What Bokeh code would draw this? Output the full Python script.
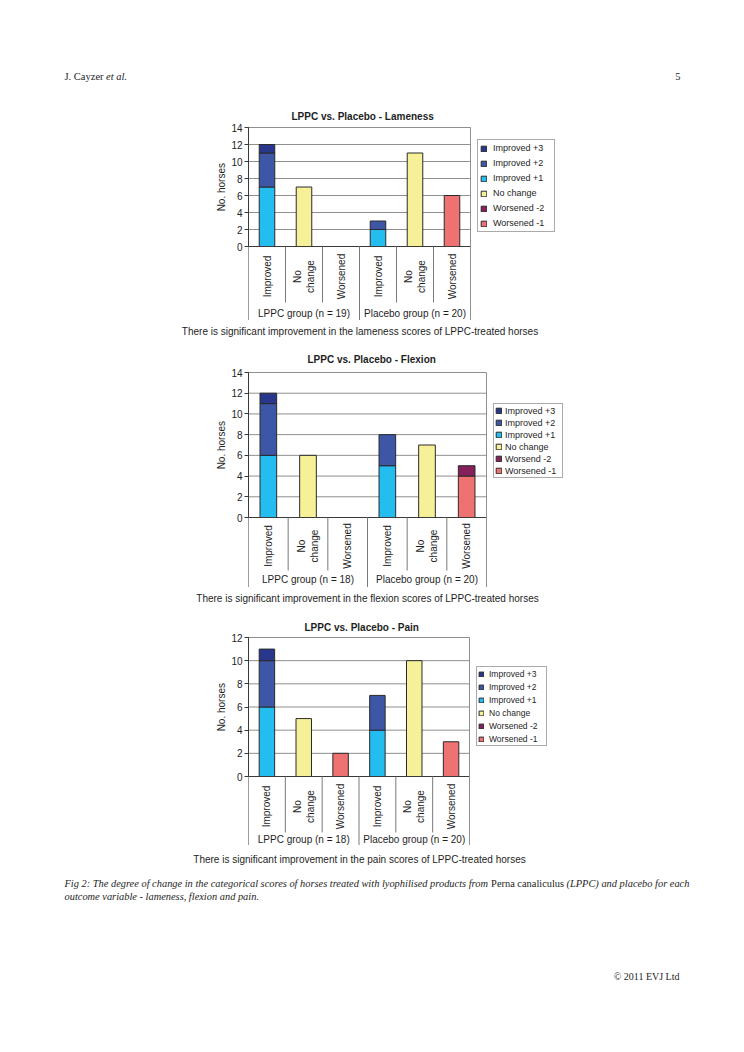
import math
from bokeh.plotting import figure
from bokeh.models import Range1d, FixedTicker, Legend, LegendItem, ColumnDataSource, Span, Title
from bokeh.core.properties import value
from bokeh.embed import file_html
from bokeh.resources import INLINE

# ---------------- data ----------------
outcomes = ["Improved", "No change", "Worsened"]
outcome_labels = ["Improved", "No\nchange", "Worsened"]

# stacking order, bottom -> top
series = ["Improved +1", "Improved +2", "Improved +3", "No change", "Worsened -1", "Worsened -2"]
# legend order, top -> bottom
legend_series = ["Improved +3", "Improved +2", "Improved +1", "No change", "Worsened -2", "Worsened -1"]
colors = {
    "Improved +3": "#28378c",
    "Improved +2": "#3d56a6",
    "Improved +1": "#24bdef",
    "No change": "#f6f199",
    "Worsened -2": "#85205c",
    "Worsened -1": "#ef7272",
}

y_label = "No. horses"

# categories: LPPC Improved, LPPC No change, LPPC Worsened, Placebo Improved, Placebo No change, Placebo Worsened
lame_title = "LPPC vs. Placebo - Lameness"
lame_groups = ["LPPC group (n = 19)", "Placebo group (n = 20)"]
lame_imp1 = [7, 0, 0, 2, 0, 0]
lame_imp2 = [4, 0, 0, 1, 0, 0]
lame_imp3 = [1, 0, 0, 0, 0, 0]
lame_nochange = [0, 7, 0, 0, 11, 0]
lame_wors1 = [0, 0, 0, 0, 0, 6]
lame_wors2 = [0, 0, 0, 0, 0, 0]
lame_legend = ["Improved +3", "Improved +2", "Improved +1", "No change", "Worsened -2", "Worsened -1"]
lame_yticks = [0, 2, 4, 6, 8, 10, 12, 14]
lame_caption = "There is significant improvement in the lameness scores of LPPC-treated horses"

flex_title = "LPPC vs. Placebo - Flexion"
flex_groups = ["LPPC group (n = 18)", "Placebo group (n = 20)"]
flex_imp1 = [6, 0, 0, 5, 0, 0]
flex_imp2 = [5, 0, 0, 3, 0, 0]
flex_imp3 = [1, 0, 0, 0, 0, 0]
flex_nochange = [0, 6, 0, 0, 7, 0]
flex_wors1 = [0, 0, 0, 0, 0, 4]
flex_wors2 = [0, 0, 0, 0, 0, 1]
flex_legend = ["Improved +3", "Improved +2", "Improved +1", "No change", "Worsend -2", "Worsened -1"]
flex_yticks = [0, 2, 4, 6, 8, 10, 12, 14]
flex_caption = "There is significant improvement in the flexion scores of LPPC-treated horses"

pain_title = "LPPC vs. Placebo - Pain"
pain_groups = ["LPPC group (n = 18)", "Placebo group (n = 20)"]
pain_imp1 = [6, 0, 0, 4, 0, 0]
pain_imp2 = [4, 0, 0, 3, 0, 0]
pain_imp3 = [1, 0, 0, 0, 0, 0]
pain_nochange = [0, 5, 0, 0, 10, 0]
pain_wors1 = [0, 0, 2, 0, 0, 3]
pain_wors2 = [0, 0, 0, 0, 0, 0]
pain_legend = ["Improved +3", "Improved +2", "Improved +1", "No change", "Worsened -2", "Worsened -1"]
pain_yticks = [0, 2, 4, 6, 8, 10, 12]
pain_caption = "There is significant improvement in the pain scores of LPPC-treated horses"

header_left = "J. Cayzer"
header_left_it = "et al."
header_page = "5"
fig_cap_1a = "Fig 2: The degree of change in the categorical scores of horses treated with lyophilised products from"
fig_cap_1b = "Perna canaliculus"
fig_cap_1c = "(LPPC) and placebo for each"
fig_cap_2 = "outcome variable - lameness, flexion and pain."
copyright_text = "\u00a9 2011 EVJ Ltd"

# ---------------- styling ----------------
W = 744
SANS = "Liberation Sans"
SERIF = "Liberation Serif"
TXT = "#1e1e1e"
GRID = "#8f8f8f"
SEP = "#7a7a7a"
AXIS = "#3a3a3a"
NAN = float("nan")
FRAME_LEFT = 248
FRAME_RIGHT = 600
YLABEL_W = 48  # approx. length of the rotated y label in px


def text_fig(h):
    p = figure(width=W, height=h, x_range=Range1d(0, W), y_range=Range1d(h, 0),
               x_axis_location=None, y_axis_location=None, toolbar_location=None,
               output_backend="svg", min_border=0, outline_line_color=None,
               background_fill_color="white", border_fill_color="white")
    p.grid.visible = False
    return p


def make_chart(title, groups, vals, legend_labels, yticks, g):
    cats = [(gr, o) for gr in groups for o in outcomes]
    n = len(cats)
    xs = [i + 0.5 for i in range(n)]
    top_tick = yticks[-1]
    ppu = g["plot_px"] / top_tick
    y_end = top_tick + 1.0 / ppu
    y_start = -g["below_px"] / ppu
    frame_h = g["plot_px"] + g["below_px"] + 1
    height = g["mb_top"] + frame_h
    xppu = g["plot_w"] / n
    x_end = (FRAME_RIGHT - FRAME_LEFT) / xppu
    p = figure(width=W, height=height, x_range=Range1d(0, x_end), y_range=Range1d(y_start, y_end),
               x_axis_location=None, toolbar_location=None, output_backend="svg",
               min_border_left=FRAME_LEFT, min_border_right=W - FRAME_RIGHT,
               min_border_top=g["mb_top"], min_border_bottom=0,
               outline_line_color=None, background_fill_color="white", border_fill_color="white")
    p.title.text = title
    p.title.align = "left"
    p.title.offset = g["title_x"] - FRAME_LEFT
    p.title.text_font = SANS
    p.title.text_font_size = "10px"
    p.title.text_font_style = "bold"
    p.title.text_color = TXT
    p.title.standoff = g["title_standoff"]

    # y axis
    ax = p.yaxis[0]
    ax.ticker = FixedTicker(ticks=yticks)
    ax.bounds = (0, top_tick)
    ax.major_label_text_font = SANS
    ax.major_label_text_font_size = "10px"
    ax.major_label_text_color = TXT
    ax.major_label_standoff = 2
    ax.axis_line_color = AXIS
    ax.major_tick_line_color = AXIS
    ax.major_tick_out = 4
    ax.major_tick_in = 0
    ax.minor_tick_line_color = None
    p.grid.visible = False
    # axis line continues down past the category labels
    p.add_layout(Span(location=0, dimension="height", line_color=AXIS, line_width=1))
    # y label, centred on the plotting area (not on the whole frame)
    ylab = Title(text=y_label, align="right", offset=1 + g["plot_px"] / 2 - YLABEL_W / 2,
                 text_font=SANS, text_font_size="10px", text_font_style="normal",
                 text_color=TXT, standoff=g["ylab_standoff"])
    p.add_layout(ylab, "left")

    # horizontal grid lines (incl. top border) over the plotting area only
    gy = yticks[1:]
    p.segment(x0=[0] * len(gy), y0=gy, x1=[n] * len(gy), y1=gy, line_color=GRID, line_width=1)

    # bars (zero segments kept as NaN so every series has a legend glyph)
    bottoms = [0] * n
    rends = {}
    for name, sv in zip(series, vals):
        bots = [b if v > 0 else NAN for v, b in zip(sv, bottoms)]
        tops = [b + v if v > 0 else NAN for v, b in zip(sv, bottoms)]
        bottoms = [b + v for b, v in zip(bottoms, sv)]
        src = ColumnDataSource(dict(x=xs, bottom=bots, top=tops))
        rends[name] = p.vbar(x="x", bottom="bottom", top="top", width=0.42, source=src,
                             fill_color=colors[name], line_color="#2a2a2a", line_width=1)

    # category axis line at 0
    p.segment(x0=[0], y0=[0], x1=[n], y1=[0], line_color=AXIS, line_width=1)

    # separators between categories / groups and right border
    inner_x, outer_x = [], []
    for i in range(1, n):
        if cats[i][0] != cats[i - 1][0]:
            outer_x.append(i)
        else:
            inner_x.append(i)
    p.segment(x0=inner_x, y0=[0] * len(inner_x), x1=inner_x, y1=[-g["inner_px"] / ppu] * len(inner_x),
              line_color=SEP, line_width=1)
    p.segment(x0=outer_x, y0=[0] * len(outer_x), x1=outer_x, y1=[y_start] * len(outer_x),
              line_color=SEP, line_width=1)
    p.segment(x0=[n], y0=[y_start], x1=[n], y1=[top_tick], line_color=GRID, line_width=1)

    # category labels
    labels = [outcome_labels[outcomes.index(c[1])] for c in cats]
    p.text(x=xs, y=[0] * n, text=labels, angle=math.pi / 2, y_offset=g["cat_off"],
           text_align="center", text_baseline="middle", text_font=value(SANS),
           text_font_size="10px", text_color=TXT, text_line_height=1.15)
    # group labels
    centers = []
    for gr in groups:
        idx = [i for i, c in enumerate(cats) if c[0] == gr]
        centers.append((idx[0] + idx[-1] + 1) / 2)
    p.text(x=centers, y=[0] * len(groups), text=groups, y_offset=g["grp_off"],
           text_align="center", text_baseline="middle", text_font=value(SANS),
           text_font_size="10px", text_color=TXT)

    # legend (inside the frame, to the right of the plotting area)
    items = [LegendItem(label=lab, renderers=[rends[s]]) for lab, s in zip(legend_labels, legend_series)]
    L = g["leg"]
    leg = Legend(items=items, location=(L["x"] - FRAME_LEFT, L["vy"]),
                 margin=0, padding=L["pad"], spacing=L["sp"],
                 glyph_width=L["gw"], glyph_height=L["gw"], label_height=L["lh"],
                 label_width=L["lw"], label_standoff=L["so"],
                 label_text_font=SANS, label_text_font_size=L["fs"], label_text_color=TXT,
                 border_line_color="#555555", border_line_width=1,
                 background_fill_color="white", background_fill_alpha=1.0)
    p.add_layout(leg)
    return p


# ---------------- page ----------------
t0 = text_fig(95)
t0.text(x=[64], y=[76], text=[header_left], text_font=value(SERIF), text_font_size="10.5px",
        text_color=TXT, text_baseline="middle", text_align="left")
t0.text(x=[105.5], y=[76], text=[header_left_it], text_font=value(SERIF), text_font_size="10.5px",
        text_font_style="italic", text_color=TXT, text_baseline="middle", text_align="left")
t0.text(x=[680], y=[76], text=[header_page], text_font=value(SERIF), text_font_size="10.5px",
        text_color=TXT, text_baseline="middle", text_align="right")

c1 = make_chart(lame_title, lame_groups,
                [lame_imp1, lame_imp2, lame_imp3, lame_nochange, lame_wors1, lame_wors2],
                lame_legend, lame_yticks,
                dict(plot_w=222, mb_top=31, plot_px=119, below_px=74, inner_px=56,
                     cat_off=30, grp_off=67, title_standoff=9, title_x=291, ylab_standoff=4,
                     leg=dict(x=477, vy=88, pad=2, sp=3, lh=12, gw=7, lw=59, so=6, fs="9px")))

t1 = text_fig(20)
t1.text(x=[359.5], y=[11], text=[lame_caption], text_font=value(SANS), text_font_size="10px",
        text_color=TXT, text_baseline="middle", text_align="center")

c2 = make_chart(flex_title, flex_groups,
                [flex_imp1, flex_imp2, flex_imp3, flex_nochange, flex_wors1, flex_wors2],
                flex_legend, flex_yticks,
                dict(plot_w=238, mb_top=31, plot_px=145, below_px=70, inner_px=53,
                     cat_off=28.5, grp_off=62, title_standoff=14, title_x=307, ylab_standoff=4,
                     leg=dict(x=493, vy=109, pad=1, sp=1, lh=11, gw=7, lw=56, so=3, fs="9px")))

t2 = text_fig(19)
t2.text(x=[367], y=[11], text=[flex_caption], text_font=value(SANS), text_font_size="10px",
        text_color=TXT, text_baseline="middle", text_align="center")

c3 = make_chart(pain_title, pain_groups,
                [pain_imp1, pain_imp2, pain_imp3, pain_nochange, pain_wors1, pain_wors2],
                pain_legend, pain_yticks,
                dict(plot_w=221, mb_top=30, plot_px=139, below_px=69, inner_px=56,
                     cat_off=30, grp_off=63, title_standoff=8, title_x=304, ylab_standoff=4,
                     leg=dict(x=476, vy=99, pad=1, sp=2, lh=11, gw=6, lw=56, so=5, fs="8.5px")))

t3 = text_fig(200)
t3.text(x=[359], y=[14], text=[pain_caption], text_font=value(SANS), text_font_size="10px",
        text_color=TXT, text_baseline="middle", text_align="center")
t3.text(x=[64], y=[38], text=[fig_cap_1a], text_font=value(SERIF), text_font_size="10.4px",
        text_font_style="italic", text_color=TXT, text_baseline="middle", text_align="left")
t3.text(x=[490.6], y=[38], text=[fig_cap_1b], text_font=value(SERIF), text_font_size="10.4px",
        text_color=TXT, text_baseline="middle", text_align="left")
t3.text(x=[566], y=[38], text=[fig_cap_1c], text_font=value(SERIF), text_font_size="10.4px",
        text_font_style="italic", text_color=TXT, text_baseline="middle", text_align="left")
t3.text(x=[64], y=[51], text=[fig_cap_2], text_font=value(SERIF), text_font_size="10.4px",
        text_font_style="italic", text_color=TXT, text_baseline="middle", text_align="left")
t3.text(x=[679], y=[131], text=[copyright_text], text_font=value(SERIF), text_font_size="10px",
        text_color=TXT, text_baseline="middle", text_align="right")

open("out.html", "w").write(file_html([t0, c1, t1, c2, t2, c3, t3], INLINE))
